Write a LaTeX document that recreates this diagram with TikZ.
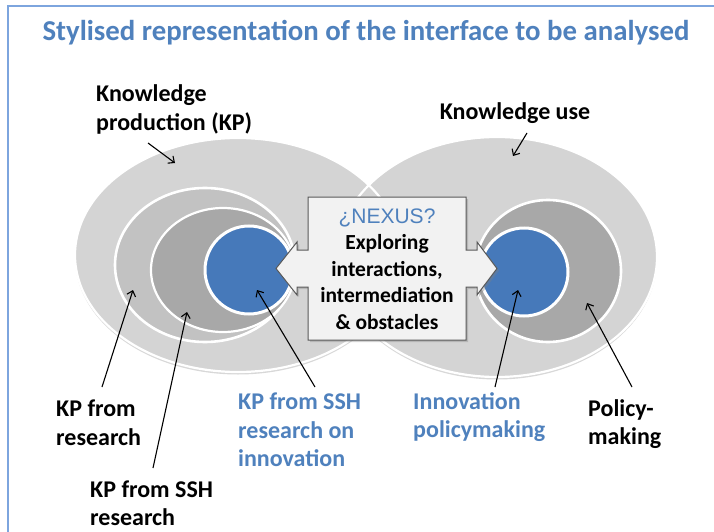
\documentclass[tikz,border=0pt]{standalone}
\usepackage{fontspec}
\setmainfont{Carlito}
\newfontfamily\nexusfont{Liberation Sans}
\usetikzlibrary{calc,shadows,arrows.meta}

\definecolor{titleblue}{RGB}{79,129,189}
\definecolor{discblue}{RGB}{70,121,186}
\definecolor{frameblue}{RGB}{125,165,222}
\definecolor{outergray}{RGB}{212,212,212}
\definecolor{midgray}{RGB}{194,194,194}
\definecolor{innergray}{RGB}{168,168,168}
\definecolor{boxfill}{RGB}{242,242,242}
\definecolor{boxline}{RGB}{89,89,89}

\begin{document}
\begin{tikzpicture}[x=1pt,y=-1pt,
  lbl/.style={font=\bfseries\fontsize{24}{28.5}\selectfont, align=left, inner sep=0pt, anchor=west},
  bluelbl/.style={lbl, text=titleblue},
  pointer/.style={-{Straight Barb[length=5pt,width=9pt]}, line width=1.1pt, black},
  softshadow/.style={drop shadow={opacity=0.25, shadow xshift=0pt, shadow yshift=-2.5pt, fill=black!60}},
  ring/.style={draw=white, line width=2.2pt},
  disc/.style={fill=discblue, draw=white, line width=3pt},
]
\useasboundingbox (0,0) rectangle (714,532);
\fill[white] (0,0) rectangle (714,532);

% slide frame
\draw[frameblue, line width=2pt] (714,6) -- (8,6) -- (8,532);

% title
\node[font=\bfseries\fontsize{28.8}{34}\selectfont, text=titleblue, inner sep=0pt] (title) at (366,33)
  {Stylised representation of the interface to be analysed};

% outer fields: knowledge production (left) and knowledge use (right)
\fill[outergray, softshadow] (238,255) ellipse [x radius=163, y radius=117];
\fill[outergray, softshadow] (497,257) ellipse [x radius=160, y radius=120];
\draw[ring] (238,255) ellipse [x radius=163, y radius=117];
\draw[ring] (497,257) ellipse [x radius=160, y radius=120];

% nested fields on the production side
\fill[midgray] (205,265) ellipse [x radius=90, y radius=77];
\draw[ring, line width=2.6pt] (205,265) ellipse [x radius=90, y radius=77];
\fill[innergray] (223,270) ellipse [x radius=72, y radius=62];
\draw[ring] (223,270) ellipse [x radius=72, y radius=62];
\draw[disc] (249,270) circle [radius=44];

% nested fields on the use side
\fill[innergray] (548,271) ellipse [x radius=73, y radius=71];
\draw[ring, line width=2.6pt] (548,271) ellipse [x radius=73, y radius=71];
\draw[disc] (524,272) circle [radius=44];

% central double-headed callout
\filldraw[fill=boxfill, draw=boxline, line width=1pt,
  drop shadow={opacity=0.35, shadow xshift=2pt, shadow yshift=-2pt}]
  (308,197) -- (466,197) -- (466,250) -- (477,250) -- (477,242) -- (497,268.5)
  -- (477,295) -- (477,287) -- (466,287) -- (466,340) -- (308,340) -- (308,287)
  -- (297,287) -- (297,295) -- (276,268.5) -- (297,242) -- (297,250) -- (308,250) -- cycle;
\node[font=\bfseries\fontsize{21.5}{26.5}\selectfont, align=center, inner sep=0pt] (nexus) at (387,269)
  {{\nexusfont\mdseries\fontsize{21}{26.5}\selectfont\color{titleblue}¿NEXUS?}\\
   Exploring\\ interactions,\\ intermediation\\ \&~obstacles};

% labels
\node[lbl] (kp) at (96,109.5) {Knowledge\\production (KP)};
\node[lbl, anchor=center] (use) at (515,113) {Knowledge use};
\node[lbl] (kpres) at (56,422.5) {KP from\\research};
\node[lbl] (kpssh) at (90,503) {KP from SSH\\research};
\node[bluelbl] (kpinno) at (238,430) {KP from SSH\\research on\\innovation};
\node[bluelbl] (innopol) at (413,417) {Innovation\\policymaking};
\node[lbl] (pol) at (588,424) {Policy-\\making};

% pointer ends
\coordinate (kpA) at (148,143);   \coordinate (kpB) at (175,163);
\coordinate (useA) at (527,133);  \coordinate (useB) at (513,156);
\coordinate (resA) at (102,387);  \coordinate (resB) at (133,290);
\coordinate (sshA) at (153,468);  \coordinate (sshB) at (187,312);
\coordinate (innA) at (315,387);  \coordinate (innB) at (257,290);
\coordinate (ipA) at (495,387);   \coordinate (ipB) at (518,290);
\coordinate (polA) at (632,387);  \coordinate (polB) at (587,303);

\draw[pointer] (kpA) -- (kpB);
\draw[pointer] (useA) -- (useB);
\draw[pointer] (resA) -- (resB);
\draw[pointer] (sshA) -- (sshB);
\draw[pointer] (innA) -- (innB);
\draw[pointer] (ipA) -- (ipB);
\draw[pointer] (polA) -- (polB);
\end{tikzpicture}
\end{document}
